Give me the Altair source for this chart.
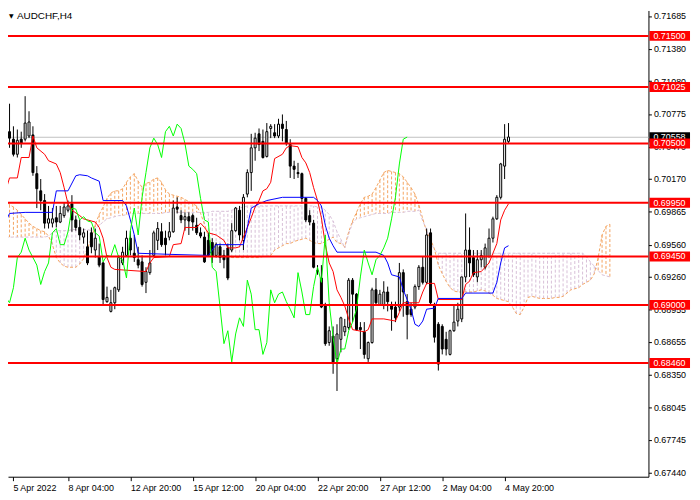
import altair as alt
import pandas as pd

# AUDCHF H4 candles, bar 0 = 5 Apr 2022 (4 hours per bar)
OPEN = [0.7075, 0.7061, 0.7054, 0.7040, 0.7054, 0.7054, 0.7057, 0.7058, 0.7022, 0.7006,
        0.6997, 0.6976, 0.6976, 0.6981, 0.6977, 0.6983, 0.6988, 0.6994, 0.6979, 0.6972,
        0.6963, 0.6954, 0.6967, 0.6951, 0.6945, 0.6939, 0.6903, 0.6894, 0.6902, 0.6914,
        0.6939, 0.6946, 0.6962, 0.6948, 0.6942, 0.6940, 0.6921, 0.6930, 0.6946, 0.6960,
        0.6968, 0.6962, 0.6963, 0.6968, 0.6991, 0.6983, 0.6979, 0.6982, 0.6983, 0.6974,
        0.6967, 0.6963, 0.6960, 0.6958, 0.6946, 0.6954, 0.6946, 0.6953, 0.6951, 0.6969,
        0.6988, 0.6960, 0.7003, 0.7023, 0.7046, 0.7059, 0.7052, 0.7038, 0.7064, 0.7060,
        0.7057, 0.7068, 0.7063, 0.7049, 0.7029, 0.7023, 0.7022, 0.6999, 0.6983, 0.6976,
        0.6932, 0.6925, 0.6899, 0.6865, 0.6871, 0.6850, 0.6868, 0.6875, 0.6879, 0.6923,
        0.6910, 0.6879, 0.6875, 0.6850, 0.6865, 0.6914, 0.6900, 0.6900, 0.6912, 0.6899,
        0.6898, 0.6898, 0.6930, 0.6903, 0.6896, 0.6898, 0.6917, 0.6935, 0.6921, 0.6967,
        0.6900, 0.6882, 0.6880, 0.6868, 0.6854, 0.6876, 0.6885, 0.6887, 0.6926, 0.6951,
        0.6944, 0.6926, 0.6942, 0.6935, 0.6945, 0.6962, 0.6980, 0.7000, 0.7029, 0.7052]
HIGH = [0.7084, 0.7087, 0.7066, 0.7063, 0.7061, 0.7094, 0.7080, 0.7066, 0.7029, 0.7017,
        0.7003, 0.6992, 0.6990, 0.6992, 0.6992, 0.6995, 0.6997, 0.7002, 0.6983, 0.6979,
        0.6971, 0.6969, 0.6972, 0.6971, 0.6957, 0.6940, 0.6917, 0.6914, 0.6917, 0.6946,
        0.6954, 0.6969, 0.6969, 0.6965, 0.6954, 0.6946, 0.6935, 0.6951, 0.6969, 0.6977,
        0.6976, 0.6969, 0.6977, 0.6997, 0.7000, 0.6988, 0.6986, 0.6986, 0.6985, 0.6981,
        0.6972, 0.6968, 0.6967, 0.6962, 0.6958, 0.6957, 0.6951, 0.6957, 0.6976, 0.6991,
        0.6992, 0.7003, 0.7026, 0.7059, 0.7060, 0.7064, 0.7063, 0.7069, 0.7068, 0.7068,
        0.7073, 0.7077, 0.7071, 0.7054, 0.7034, 0.7032, 0.7023, 0.7000, 0.6988, 0.6979,
        0.6937, 0.6937, 0.6902, 0.6880, 0.6880, 0.6882, 0.6889, 0.6887, 0.6925, 0.6925,
        0.6911, 0.6884, 0.6884, 0.6866, 0.6916, 0.6925, 0.6914, 0.6922, 0.6917, 0.6903,
        0.6903, 0.6939, 0.6933, 0.6910, 0.6902, 0.6919, 0.6937, 0.6945, 0.6971, 0.6971,
        0.6902, 0.6884, 0.6882, 0.6875, 0.6877, 0.6899, 0.6902, 0.6926, 0.6985, 0.6972,
        0.6951, 0.6951, 0.6951, 0.6957, 0.6971, 0.6982, 0.7002, 0.7032, 0.7068, 0.7069]
LOW = [0.7060, 0.7046, 0.7038, 0.7037, 0.7046, 0.7052, 0.7055, 0.7020, 0.6990, 0.6988,
       0.6971, 0.6971, 0.6972, 0.6972, 0.6976, 0.6981, 0.6986, 0.6968, 0.6969, 0.6960,
       0.6957, 0.6937, 0.6948, 0.6944, 0.6935, 0.6900, 0.6902, 0.6893, 0.6896, 0.6912,
       0.6937, 0.6945, 0.6946, 0.6940, 0.6934, 0.6917, 0.6911, 0.6928, 0.6945, 0.6951,
       0.6954, 0.6946, 0.6960, 0.6967, 0.6985, 0.6976, 0.6969, 0.6965, 0.6969, 0.6965,
       0.6962, 0.6939, 0.6945, 0.6939, 0.6944, 0.6939, 0.6934, 0.6923, 0.6949, 0.6968,
       0.6960, 0.6951, 0.7000, 0.7006, 0.7034, 0.7043, 0.7036, 0.7037, 0.7055, 0.7055,
       0.7055, 0.7052, 0.7048, 0.7018, 0.7017, 0.7018, 0.6994, 0.6977, 0.6974, 0.6934,
       0.6928, 0.6897, 0.6862, 0.6862, 0.6836, 0.6820, 0.6856, 0.6871, 0.6877, 0.6884,
       0.6876, 0.6859, 0.6850, 0.6847, 0.6864, 0.6900, 0.6899, 0.6896, 0.6894, 0.6876,
       0.6884, 0.6894, 0.6889, 0.6868, 0.6889, 0.6896, 0.6914, 0.6919, 0.6919, 0.6900,
       0.6865, 0.6839, 0.6854, 0.6853, 0.6853, 0.6875, 0.6880, 0.6884, 0.6921, 0.6926,
       0.6926, 0.6921, 0.6935, 0.6933, 0.6944, 0.6958, 0.6979, 0.6998, 0.7017, 0.7050]
CLOSE = [0.7061, 0.7055, 0.7040, 0.7053, 0.7050, 0.7069, 0.7070, 0.7023, 0.7008, 0.6997,
         0.6976, 0.6980, 0.6980, 0.6977, 0.6985, 0.6991, 0.6992, 0.6979, 0.6972, 0.6965,
         0.6967, 0.6939, 0.6954, 0.6962, 0.6937, 0.6905, 0.6907, 0.6902, 0.6916, 0.6944,
         0.6949, 0.6962, 0.6951, 0.6944, 0.6937, 0.6919, 0.6931, 0.6939, 0.6967, 0.6971,
         0.6956, 0.6956, 0.6968, 0.6990, 0.6989, 0.6979, 0.6982, 0.6978, 0.6977, 0.6967,
         0.6964, 0.6940, 0.6946, 0.6945, 0.6956, 0.6944, 0.6942, 0.6925, 0.6969, 0.6990,
         0.6965, 0.7000, 0.7023, 0.7046, 0.7055, 0.7049, 0.7037, 0.7061, 0.7066, 0.7057,
         0.7068, 0.7064, 0.7050, 0.7029, 0.7026, 0.7022, 0.6999, 0.6979, 0.6977, 0.6935,
         0.6931, 0.6898, 0.6864, 0.6876, 0.6847, 0.6873, 0.6888, 0.6880, 0.6923, 0.6910,
         0.6877, 0.6877, 0.6854, 0.6865, 0.6914, 0.6902, 0.6910, 0.6912, 0.6903, 0.6896,
         0.6888, 0.6930, 0.6912, 0.6891, 0.6891, 0.6917, 0.6935, 0.6921, 0.6965, 0.6902,
         0.6870, 0.6845, 0.6859, 0.6859, 0.6876, 0.6884, 0.6896, 0.6926, 0.6951, 0.6939,
         0.6928, 0.6942, 0.6946, 0.6953, 0.6962, 0.6980, 0.7000, 0.7031, 0.7054, 0.7056]
LAST_PRICE = 0.70558

# Ichimoku lines read at their turning points (bar index, price)
TENKAN_BAR = [0, 1, 3, 4, 6, 7, 8, 10, 11, 13, 14, 15, 16, 17, 19, 20, 22, 23, 24, 25,
              26, 27, 28, 36, 37, 38, 42, 43, 45, 46, 49, 50, 51, 52, 54, 56, 57, 59, 60, 61,
              62, 63, 64, 65, 66, 67, 68, 69, 71, 72, 73, 75, 76, 77, 78, 79, 80, 81, 82, 83,
              84, 85, 86, 87, 88, 89, 92, 93, 94, 97, 100, 101, 102, 106, 107, 108, 110, 111, 117, 118,
              119, 120, 122, 123, 124, 125, 126, 127, 128, 129]
TENKAN = [0.7006, 0.7018, 0.7018, 0.7037, 0.7037, 0.7057, 0.7046, 0.7040, 0.7034, 0.7031,
          0.7023, 0.7009, 0.6994, 0.6988, 0.6983, 0.6980, 0.6978, 0.6977, 0.6972, 0.6962,
          0.6944, 0.6935, 0.6933, 0.6931, 0.6939, 0.6944, 0.6945, 0.6956, 0.6957, 0.6972,
          0.6972, 0.6976, 0.6972, 0.6967, 0.6965, 0.6960, 0.6953, 0.6953, 0.6954, 0.6963,
          0.6972, 0.6981, 0.6991, 0.6997, 0.7006, 0.7008, 0.7014, 0.7036, 0.7040, 0.7046,
          0.7048, 0.7047, 0.7037, 0.7032, 0.7023, 0.7009, 0.6997, 0.6981, 0.6956, 0.6939,
          0.6931, 0.6914, 0.6907, 0.6899, 0.6887, 0.6877, 0.6875, 0.6877, 0.6887, 0.6887,
          0.6885, 0.6893, 0.6902, 0.6902, 0.6912, 0.6920, 0.6920, 0.6905, 0.6905, 0.6919,
          0.6922, 0.6930, 0.6931, 0.6935, 0.6939, 0.6948, 0.6957, 0.6979, 0.6988, 0.6994]
KIJUN_BAR = [0, 1, 5, 12, 13, 16, 18, 19, 21, 22, 24, 25, 30, 31, 32, 33, 34, 42, 52, 54,
             61, 62, 63, 64, 65, 67, 71, 79, 80, 81, 82, 83, 84, 85, 95, 97, 98, 99, 101, 102,
             103, 104, 105, 106, 107, 108, 110, 111, 117, 118, 125, 126, 127, 128, 129]
KIJUN = [0.6977, 0.6985, 0.6986, 0.6986, 0.7006, 0.7006, 0.7020, 0.7021, 0.7020, 0.7018,
         0.7015, 0.6997, 0.6997, 0.6992, 0.6979, 0.6965, 0.6948, 0.6947, 0.6946, 0.6956,
         0.6956, 0.6972, 0.6990, 0.6992, 0.6994, 0.6997, 0.7000, 0.7000, 0.6997, 0.6992,
         0.6974, 0.6962, 0.6955, 0.6949, 0.6949, 0.6946, 0.6939, 0.6928, 0.6926, 0.6914,
         0.6905, 0.6896, 0.6882, 0.6880, 0.6885, 0.6896, 0.6897, 0.6906, 0.6906, 0.6911,
         0.6911, 0.6921, 0.6939, 0.6953, 0.6955]
CHIKOU_SHIFT = 26  # Chikou span = close drawn 26 bars back

# Senkou spans, one value per bar (cloud runs 26 bars past the last candle)
SPAN_A = [0.6999, 0.6993, 0.6991, 0.6988, 0.6984, 0.6980, 0.6976, 0.6973, 0.6971, 0.6969,
          0.6968, 0.6964, 0.6956, 0.6944, 0.6939, 0.6936, 0.6935, 0.6935, 0.6935, 0.6938,
          0.6943, 0.6953, 0.6962, 0.6975, 0.6984, 0.6991, 0.6999, 0.7004, 0.7006, 0.7006,
          0.7008, 0.7014, 0.7019, 0.7022, 0.7015, 0.7009, 0.7013, 0.7014, 0.7017, 0.7018,
          0.7014, 0.7007, 0.7003, 0.7002, 0.7001, 0.7000, 0.6998, 0.6996, 0.6994, 0.6992,
          0.6985, 0.6975, 0.6964, 0.6955, 0.6950, 0.6947, 0.6945, 0.6945, 0.6944, 0.6944,
          0.6944, 0.6944, 0.6944, 0.6944, 0.6944, 0.6944, 0.6945, 0.6945, 0.6946, 0.6951,
          0.6953, 0.6955, 0.6957, 0.6957, 0.6959, 0.6960, 0.6961, 0.6962, 0.6960, 0.6958,
          0.6957, 0.6957, 0.6959, 0.6961, 0.6963, 0.6958, 0.6957, 0.6954, 0.6968, 0.6978,
          0.6986, 0.6994, 0.7000, 0.7001, 0.7003, 0.7009, 0.7016, 0.7023, 0.7025, 0.7024,
          0.7023, 0.7022, 0.7019, 0.7014, 0.7009, 0.7003, 0.6993, 0.6980, 0.6968, 0.6961,
          0.6952, 0.6937, 0.6929, 0.6922, 0.6916, 0.6913, 0.6912, 0.6912, 0.6912, 0.6912,
          0.6912, 0.6913, 0.6914, 0.6913, 0.6911, 0.6909, 0.6906, 0.6905, 0.6904, 0.6903,
          0.6898, 0.6892, 0.6891, 0.6898, 0.6907, 0.6908, 0.6907, 0.6906, 0.6906, 0.6906,
          0.6906, 0.6907, 0.6907, 0.6908, 0.6911, 0.6914, 0.6915, 0.6916, 0.6919, 0.6921,
          0.6923, 0.6929, 0.6944, 0.6965, 0.6973, 0.6975]
SPAN_B = [0.6963, 0.6963, 0.6963, 0.6963, 0.6963, 0.6963, 0.6963, 0.6963, 0.6963, 0.6963,
          0.6963, 0.6964, 0.6967, 0.6969, 0.6969, 0.6969, 0.6969, 0.6970, 0.6970, 0.6970,
          0.6970, 0.6970, 0.6969, 0.6971, 0.6974, 0.6977, 0.6980, 0.6981, 0.6982, 0.6983,
          0.6983, 0.6984, 0.6985, 0.6985, 0.6985, 0.6985, 0.6985, 0.6985, 0.6985, 0.6985,
          0.6985, 0.6986, 0.6986, 0.6986, 0.6986, 0.6986, 0.6986, 0.6986, 0.6986, 0.6986,
          0.6986, 0.6986, 0.6986, 0.6987, 0.6987, 0.6987, 0.6987, 0.6987, 0.6988, 0.6989,
          0.6990, 0.6991, 0.6992, 0.6992, 0.6992, 0.6992, 0.6992, 0.6992, 0.6992, 0.6992,
          0.6992, 0.6992, 0.6992, 0.6992, 0.6992, 0.6992, 0.6992, 0.6992, 0.6992, 0.6992,
          0.6991, 0.6991, 0.6988, 0.6984, 0.6978, 0.6968, 0.6961, 0.6953, 0.6966, 0.6976,
          0.6980, 0.6981, 0.6982, 0.6983, 0.6984, 0.6985, 0.6985, 0.6985, 0.6985, 0.6986,
          0.6986, 0.6986, 0.6986, 0.6987, 0.6987, 0.6987, 0.6988, 0.6978, 0.6970, 0.6959,
          0.6951, 0.6948, 0.6948, 0.6948, 0.6948, 0.6948, 0.6948, 0.6948, 0.6948, 0.6948,
          0.6948, 0.6948, 0.6948, 0.6948, 0.6948, 0.6948, 0.6948, 0.6948, 0.6948, 0.6948,
          0.6948, 0.6948, 0.6948, 0.6948, 0.6948, 0.6948, 0.6948, 0.6948, 0.6948, 0.6948,
          0.6948, 0.6948, 0.6948, 0.6948, 0.6948, 0.6948, 0.6948, 0.6948, 0.6948, 0.6945,
          0.6940, 0.6936, 0.6932, 0.6928, 0.6927, 0.6926]

# horizontal support / resistance lines
LEVELS = [0.71500, 0.71025, 0.70500, 0.69950, 0.69450, 0.69000, 0.68460]

PRICE_TICKS = [0.71685, 0.71380, 0.71080, 0.70775, 0.70470, 0.70170, 0.69865, 0.69560,
               0.69260, 0.68955, 0.68655, 0.68350, 0.68045, 0.67745, 0.67440]
TIME_TICK_BARS = [0, 16, 32, 48, 64, 80, 96, 112, 128]
TIME_TICK_LABELS = ["5 Apr 2022", "8 Apr 04:00", "12 Apr 20:00", "15 Apr 12:00",
                    "20 Apr 04:00", "22 Apr 20:00", "27 Apr 12:00", "2 May 04:00", "4 May 20:00"]

FONT = "Liberation Sans"
X_DOMAIN = [1.875, 163.625]
Y_DOMAIN = [0.674032, 0.717364]

x_scale = alt.Scale(domain=X_DOMAIN, nice=False, zero=False)
y_scale = alt.Scale(domain=Y_DOMAIN, nice=False, zero=False)

label_array = "[" + ",".join(f"'{t}'" for t in TIME_TICK_LABELS) + "]"
x_axis = alt.Axis(
    values=[max(b, X_DOMAIN[0]) for b in TIME_TICK_BARS],
    labelExpr=f"{label_array}[round(datum.value / 16)]",
    title=None, grid=False, labelFont=FONT, labelFontSize=9, labelColor="black",
    labelAlign="left", labelBaseline="top", labelPadding=3, tickSize=4,
    tickColor="black", domainColor="black", labelOverlap=False, labelFlush=False,
)
y_axis = alt.Axis(
    orient="right", values=PRICE_TICKS, format=".5f", title=None, grid=False,
    labelFont=FONT, labelFontSize=9, labelColor="black", labelPadding=2, tickSize=3,
    tickColor="black", domainColor="black", labelOverlap=False, labelFlush=False,
)


def xq(field="bar"):
    return alt.X(f"{field}:Q", scale=x_scale, axis=x_axis)


def yq(field):
    return alt.Y(f"{field}:Q", scale=y_scale, axis=y_axis)


candles = pd.DataFrame({"bar": range(len(OPEN)), "open": OPEN, "high": HIGH,
                        "low": LOW, "close": CLOSE})
candles["kind"] = ["up" if c >= o else "down" for o, c in zip(OPEN, CLOSE)]

cloud = pd.DataFrame({"bar": range(len(SPAN_A)), "a": SPAN_A, "b": SPAN_B})
cloud["side"] = ["bull" if a >= b else "bear" for a, b in zip(SPAN_A, SPAN_B)]

tenkan = pd.DataFrame({"bar": TENKAN_BAR, "v": TENKAN})
kijun = pd.DataFrame({"bar": KIJUN_BAR, "v": KIJUN})
chikou = pd.DataFrame({"bar": [i - CHIKOU_SHIFT for i in range(CHIKOU_SHIFT, len(CLOSE))],
                       "v": CLOSE[CHIKOU_SHIFT:]})
levels = pd.DataFrame({"price": LEVELS, "label": [f"{v:.5f}" for v in LEVELS]})
last = pd.DataFrame({"price": [LAST_PRICE], "label": [f"{LAST_PRICE:.5f}"]})

hatch = alt.Chart(cloud).mark_rule(strokeDash=[3, 2], strokeWidth=1, clip=True).encode(
    x=xq(), y=yq("a"), y2="b",
    color=alt.Color("side:N", scale=alt.Scale(domain=["bull", "bear"],
                                              range=["#F4A460", "#D8BFD8"]), legend=None),
)
span_a = alt.Chart(cloud).mark_line(color="#F4A460", strokeDash=[3, 2], strokeWidth=1,
                                    clip=True).encode(x=xq(), y=yq("a"))
span_b = alt.Chart(cloud).mark_line(color="#D8BFD8", strokeDash=[3, 2], strokeWidth=1,
                                    clip=True).encode(x=xq(), y=yq("b"))

price_line = alt.Chart(last).mark_rule(color="#C0C0C0", strokeWidth=1).encode(y=yq("price"))

wicks = alt.Chart(candles).mark_rule(color="black", strokeWidth=1, clip=True).encode(
    x=xq(), y=yq("low"), y2="high")
bodies = alt.Chart(candles).mark_bar(width=2, stroke="black", strokeWidth=1,
                                     orient="vertical", clip=True).encode(
    x=xq(), y=yq("open"), y2="close",
    fill=alt.Fill("kind:N", scale=alt.Scale(domain=["up", "down"], range=["white", "black"]),
                  legend=None),
)

tenkan_line = alt.Chart(tenkan).mark_line(color="#FF0000", strokeWidth=1, clip=True).encode(
    x=xq(), y=yq("v"))
kijun_line = alt.Chart(kijun).mark_line(color="#0000FF", strokeWidth=1, clip=True).encode(
    x=xq(), y=yq("v"))
chikou_line = alt.Chart(chikou).mark_line(color="#00FF00", strokeWidth=1, clip=True).encode(
    x=xq(), y=yq("v"))

level_lines = alt.Chart(levels).mark_rule(color="#FF0000", strokeWidth=2).encode(y=yq("price"))

last_box = alt.Chart(last).mark_tick(orient="horizontal", thickness=10, size=41,
                                     color="black", opacity=1).encode(
    x=alt.value(668.5), y=yq("price"))
last_text = alt.Chart(last).mark_text(align="left", baseline="middle", color="white",
                                      font=FONT, fontSize=9).encode(
    x=alt.value(652), y=yq("price"), text="label:N")
level_boxes = alt.Chart(levels).mark_tick(orient="horizontal", thickness=10, size=41,
                                          color="#FF0000", opacity=1).encode(
    x=alt.value(668.5), y=yq("price"))
level_text = alt.Chart(levels).mark_text(align="left", baseline="middle", color="white",
                                         font=FONT, fontSize=9).encode(
    x=alt.value(652), y=yq("price"), text="label:N")

symbol = pd.DataFrame({"t": ["AUDCHF,H4"], "m": ["\u25bc"]})
symbol_text = alt.Chart(symbol).mark_text(align="left", baseline="top", font=FONT,
                                          fontSize=10, color="black").encode(
    x=alt.value(9), y=alt.value(1), text="t:N")
symbol_mark = alt.Chart(symbol).mark_text(align="left", baseline="top", font="DejaVu Sans",
                                          fontSize=6, color="black").encode(
    x=alt.value(1), y=alt.value(3), text="m:N")

chart = alt.layer(
    hatch, span_a, span_b, price_line, wicks, bodies,
    tenkan_line, kijun_line, chikou_line, level_lines,
    last_box, last_text, level_boxes, level_text, symbol_mark, symbol_text,
).properties(
    width=647, height=471,
    padding={"left": 0, "top": 0, "right": 44, "bottom": 20},
    autosize=alt.AutoSizeParams(type="none"),
    background="white",
).configure_view(strokeWidth=0)

chart.save("out.html", embed_options={"renderer": "svg", "actions": False})
